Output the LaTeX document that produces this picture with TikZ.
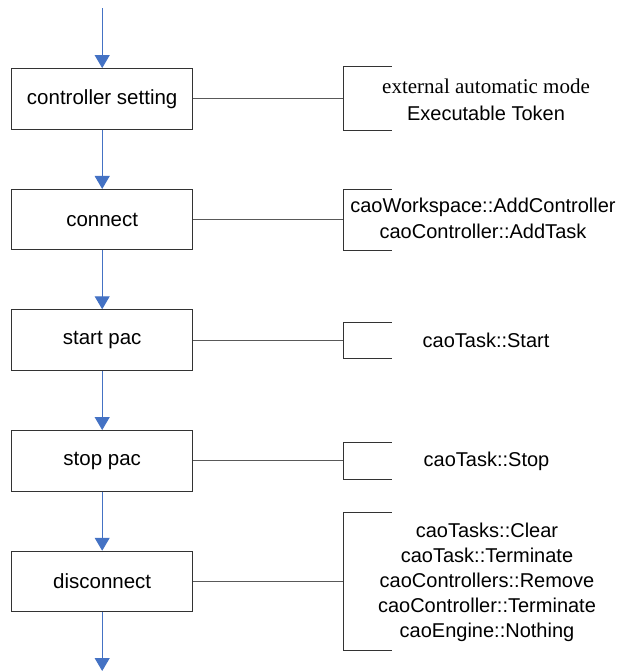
\documentclass[tikz,border=0pt]{standalone}
\usepackage{fontspec}
\setmainfont{Liberation Sans}
\newfontfamily\serifface{Liberation Serif}
\usetikzlibrary{arrows.meta}
\definecolor{flowblue}{HTML}{4472C4}
\definecolor{linkgray}{HTML}{595959}
\definecolor{boxline}{HTML}{333333}
\begin{document}
\begin{tikzpicture}[x=1pt,y=-1pt,
  stepbox/.style={draw=boxline,line width=1pt,minimum width=181pt,minimum height=60.5pt,inner sep=0pt,font=\fontsize{20.5}{24}\selectfont},
  flow/.style={draw=flowblue,line width=1pt,-{Triangle[width=15pt,length=13pt]}},
  link/.style={draw=linkgray,line width=1pt},
  bracketline/.style={draw=boxline,line width=1pt},
  info/.style={align=center,inner sep=0pt}]
\useasboundingbox (0,0) rectangle (616,672);
% boxes
\node[stepbox] (b1) at (102.2,98.8) {controller setting};
\node[stepbox] (b2) at (102.2,219.7) {connect};
\node[stepbox] (b3) at (102.2,340) {start pac};
\node[stepbox] (b4) at (102.2,460.8) {stop pac};
\node[stepbox] (b5) at (102.2,581.5) {disconnect};
% flow arrows
\coordinate (top) at (102.2,8);
\coordinate (bottom) at (102.2,671);
\draw[flow] (top) -- (b1.north);
\draw[flow] (b1.south) -- (b2.north);
\draw[flow] (b2.south) -- (b3.north);
\draw[flow] (b3.south) -- (b4.north);
\draw[flow] (b4.south) -- (b5.north);
\draw[flow] (b5.south) -- (bottom);
% brackets
\coordinate (k1) at (343.3,98.8);
\coordinate (k2) at (343.3,219.7);
\coordinate (k3) at (343.3,340);
\coordinate (k4) at (343.3,460.8);
\coordinate (k5) at (343.3,581.5);
\draw[link] (b1.east) -- (k1);
\draw[link] (b2.east) -- (k2);
\draw[link] (b3.east) -- (k3);
\draw[link] (b4.east) -- (k4);
\draw[link] (b5.east) -- (k5);
\draw[bracketline] (391.7,66.7) -- (343.3,66.7) -- (343.3,130.7) -- (391.7,130.7);
\draw[bracketline] (391.7,189) -- (343.3,189) -- (343.3,250) -- (391.7,250);
\draw[bracketline] (391.7,322.3) -- (343.3,322.3) -- (343.3,358.3) -- (391.7,358.3);
\draw[bracketline] (391.7,442.7) -- (343.3,442.7) -- (343.3,479.3) -- (391.7,479.3);
\draw[bracketline] (391.7,512.7) -- (343.3,512.7) -- (343.3,650.7) -- (391.7,650.7);
% texts
\node[info,font=\fontsize{20}{27.3}\selectfont] (t1) at (486,99.5) {{\serifface\fontsize{21}{27.3}\selectfont external automatic mode}\\Executable Token};
\node[info,font=\fontsize{20}{26.7}\selectfont] (t2) at (483,218.3) {caoWorkspace::AddController\\caoController::AddTask};
\node[info,font=\fontsize{20}{25}\selectfont] (t3) at (486,340.7) {caoTask::Start};
\node[info,font=\fontsize{20}{25}\selectfont] (t4) at (486.5,461.5) {caoTask::Stop};
\node[info,font=\fontsize{20}{25}\selectfont] (t5) at (487,582.7) {caoTasks::Clear\\caoTask::Terminate\\caoControllers::Remove\\caoController::Terminate\\caoEngine::Nothing};
\end{tikzpicture}
\end{document}
